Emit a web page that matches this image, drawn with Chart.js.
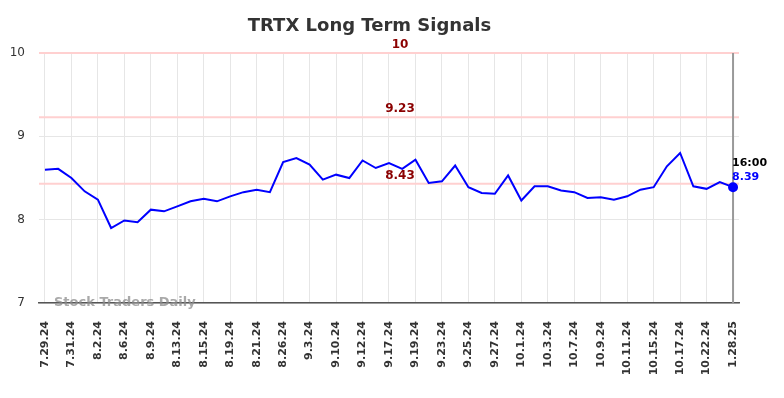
<!DOCTYPE html>
<html>
<head>
<meta charset="utf-8">
<script src="https://cdn.jsdelivr.net/npm/chart.js@4.4.1/dist/chart.umd.min.js"></script>
<style>
  html, body { margin: 0; padding: 0; background: #fff; }
  #wrap { width: 784px; height: 398px; }
</style>
</head>
<body>
<div id="wrap"><canvas id="chart"></canvas></div>
<script>
// data
const dates = ['7.29.24','7.30.24','7.31.24','8.1.24','8.2.24','8.5.24','8.6.24','8.7.24','8.9.24','8.12.24',
  '8.13.24','8.14.24','8.15.24','8.16.24','8.19.24','8.20.24','8.21.24','8.23.24','8.26.24','8.29.24',
  '9.3.24','9.6.24','9.10.24','9.11.24','9.12.24','9.16.24','9.17.24','9.18.24','9.19.24','9.20.24',
  '9.23.24','9.24.24','9.25.24','9.26.24','9.27.24','9.30.24','10.1.24','10.2.24','10.3.24','10.4.24',
  '10.7.24','10.8.24','10.9.24','10.10.24','10.11.24','10.14.24','10.15.24','10.16.24','10.17.24','10.18.24',
  '10.22.24','10.24.24','1.28.25'];
const closes = [8.60, 8.61, 8.50, 8.34, 8.24, 7.90, 7.99, 7.97, 8.12, 8.10,
  8.16, 8.22, 8.25, 8.22, 8.28, 8.33, 8.36, 8.33, 8.69, 8.74,
  8.66, 8.48, 8.54, 8.50, 8.71, 8.62, 8.68, 8.61, 8.72, 8.44,
  8.46, 8.65, 8.39, 8.32, 8.31, 8.53, 8.23, 8.40, 8.40, 8.35,
  8.33, 8.26, 8.27, 8.24, 8.28, 8.36, 8.39, 8.64, 8.80, 8.40,
  8.37, 8.45, 8.39];
const signalLevels = [10, 9.23, 8.43];
const yTicks = [7, 8, 9, 10];
const lastTime = '16:00';

const lastIdx = closes.length - 1;

// levels, watermark, last price marker
const overlay = {
  id: 'overlay',
  beforeDatasetsDraw(chart) {
    const {ctx, chartArea: a, scales: {x, y}} = chart;
    ctx.save();
    ctx.strokeStyle = '#ffd0d0';
    ctx.lineWidth = 2;
    signalLevels.forEach(l => {
      const py = y.getPixelForValue(l);
      ctx.beginPath();
      ctx.moveTo(a.left, py);
      ctx.lineTo(a.right, py);
      ctx.stroke();
    });
    const lx = x.getPixelForValue(lastIdx);
    ctx.strokeStyle = '#999';
    ctx.lineWidth = 2;
    ctx.beginPath();
    ctx.moveTo(lx, a.top);
    ctx.lineTo(lx, a.bottom);
    ctx.stroke();
    ctx.restore();
  },
  afterDatasetsDraw(chart) {
    const {ctx, chartArea: a, scales: {x, y}} = chart;
    ctx.save();
    ctx.font = 'bold 12px "DejaVu Sans"';
    ctx.fillStyle = '#8b0000';
    ctx.textAlign = 'center';
    ctx.textBaseline = 'bottom';
    const cx = (a.left + a.right) / 2 + 11;
    signalLevels.forEach(l => {
      ctx.fillText(String(l), cx, y.getPixelForValue(l) - 2);
    });
    // watermark
    ctx.font = 'bold 13px "DejaVu Sans"';
    ctx.fillStyle = 'rgba(140,140,140,0.75)';
    ctx.textAlign = 'left';
    ctx.textBaseline = 'middle';
    ctx.fillText('Stock Traders Daily', a.left + 15, a.bottom);
    // last price text
    const lx = x.getPixelForValue(lastIdx);
    const ly = y.getPixelForValue(closes[lastIdx]);
    ctx.font = 'bold 11px "DejaVu Sans"';
    ctx.fillStyle = '#000';
    ctx.fillText(lastTime, lx - 1, ly - 24);
    ctx.fillStyle = '#0000ff';
    ctx.fillText(closes[lastIdx].toFixed(2), lx - 1, ly - 10);
    ctx.restore();
  }
};

const ctx = document.querySelector('#chart').getContext('2d');
const chart = new Chart(ctx, {
  type: 'line',
  data: {
    datasets: [{
      data: closes.map((v, i) => ({x: i, y: v})),
      borderColor: '#0000ff',
      backgroundColor: '#0000ff',
      borderWidth: 2,
      tension: 0,
      pointRadius: c => c.dataIndex === lastIdx ? 4 : 0,
      pointHoverRadius: 0
    }]
  },
  options: {
    responsive: true,
    maintainAspectRatio: false,
    animation: false,
    layout: { padding: { left: 0, right: 45, top: 0, bottom: 0 } },
    plugins: {
      legend: { display: false },
      tooltip: { enabled: false },
      title: {
        display: true,
        text: 'TRTX Long Term Signals',
        color: '#333',
        font: { family: '"DejaVu Sans"', size: 18, weight: 'bold' },
        padding: { top: 16, bottom: 15.4 }
      }
    },
    scales: {
      x: {
        type: 'linear',
        min: -0.45,
        max: lastIdx + 0.45,
        afterBuildTicks: s => {
          s.ticks = dates.map((d, i) => ({value: i})).filter(t => t.value % 2 === 0);
        },
        afterFit: s => { s.height = 95; },
        grid: { color: '#e6e6e6', drawTicks: false },
        border: { display: true, color: '#555', width: 1.5 },
        ticks: {
          autoSkip: false,
          maxRotation: 90,
          minRotation: 90,
          padding: 18,
          color: '#333',
          font: { family: '"DejaVu Sans"', size: 11, weight: 'bold' },
          callback: v => dates[v]
        }
      },
      y: {
        min: 7,
        max: 10,
        afterBuildTicks: s => { s.ticks = yTicks.map(v => ({value: v})); },
        afterFit: s => { s.width = 39; },
        grid: { color: '#e6e6e6', drawTicks: false },
        border: { display: false },
        ticks: {
          padding: 14,
          color: '#333',
          font: { family: '"DejaVu Sans"', size: 12 }
        }
      }
    }
  },
  plugins: [overlay]
});
</script>
</body>
</html>
